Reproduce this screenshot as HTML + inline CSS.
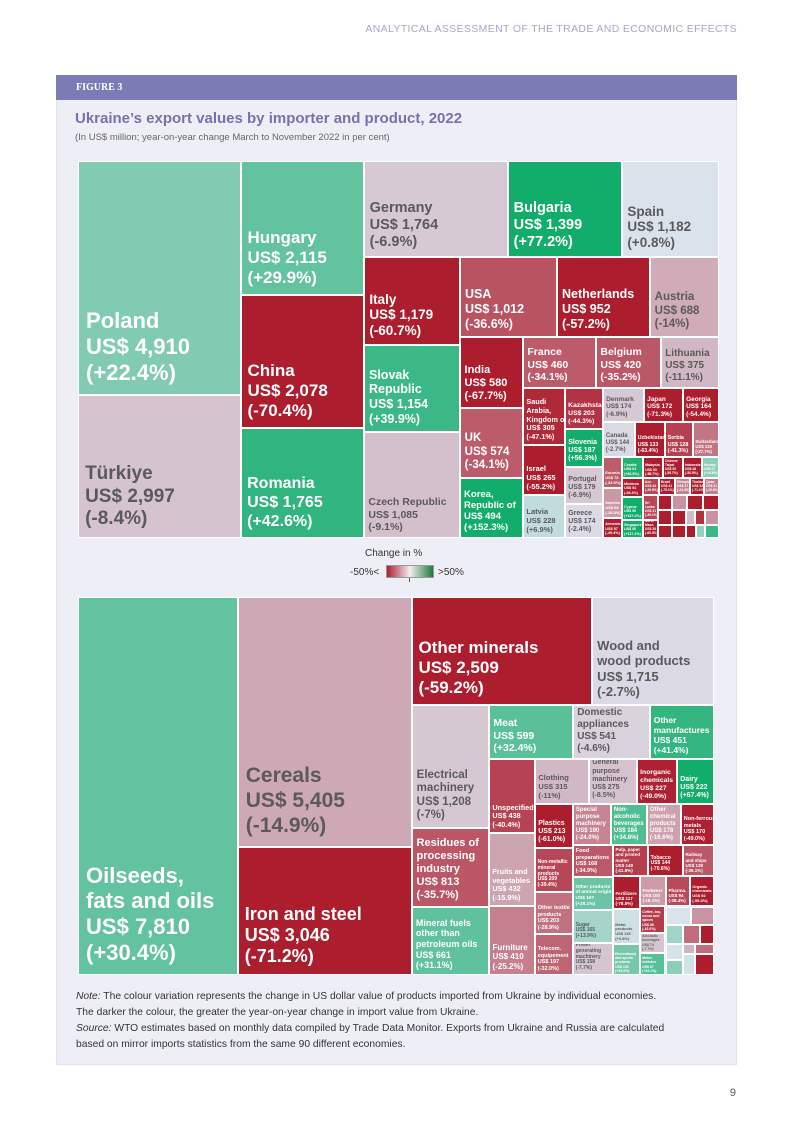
<!DOCTYPE html>
<html><head><meta charset="utf-8">
<style>
html,body{margin:0;padding:0;background:#fff;}
body{width:793px;height:1122px;position:relative;overflow:hidden;font-family:"Liberation Sans",sans-serif;}
#hdr{position:absolute;right:56px;top:23px;font-size:10.5px;color:#a7a6cc;letter-spacing:0.35px;}
#panel{position:absolute;left:56px;top:75px;width:681px;height:990px;background:#eeeef6;border:1px solid #e2e2ec;box-sizing:border-box;}
#figbar{position:absolute;left:56px;top:75px;width:681px;height:25px;background:#7b7cb5;}
#figbar span{position:absolute;left:20px;top:7px;color:#fff;font-weight:bold;font-size:10px;font-family:"Liberation Serif",serif;}
#title{position:absolute;left:75px;top:110px;font-size:15px;font-weight:bold;color:#7473ad;}
#sub{position:absolute;left:75px;top:132px;font-size:9.5px;color:#666;}
.c{position:absolute;box-sizing:border-box;border:0.5px solid #fff;overflow:hidden;display:flex;flex-direction:column;justify-content:flex-end;}
.c div{font-weight:bold;line-height:1.18;white-space:nowrap;}
#legtitle{position:absolute;left:365px;top:548px;font-size:10px;color:#333;}
#legl{position:absolute;left:350px;top:567px;font-size:10px;color:#333;}
#legr{position:absolute;left:438px;top:567px;font-size:10px;color:#333;}
#legbar{position:absolute;left:386px;top:565px;width:48px;height:13px;background:linear-gradient(to right,#ac1d2e,#f3eef0 50%,#1f7a3a);border:0.5px solid #999;box-sizing:border-box;}
#legtick{position:absolute;left:409px;top:578px;width:1px;height:4px;background:#555;}
.note{position:absolute;left:76px;font-size:10.3px;color:#333;}
#pg{position:absolute;right:57px;top:1087px;font-size:11px;color:#555;}
</style></head>
<body>
<div id="hdr">ANALYTICAL ASSESSMENT OF THE TRADE AND ECONOMIC EFFECTS</div>
<div id="panel"></div>
<div id="figbar"><span>FIGURE 3</span></div>
<div id="title">Ukraine’s export values by importer and product, 2022</div>
<div id="sub">(In US$ million; year-on-year change March to November 2022 in per cent)</div>
<div id="tm1"></div>
<div id="legtitle">Change in %</div>
<div id="legl">-50%&lt;</div>
<div id="legbar"></div>
<div id="legtick"></div>
<div id="legr">&gt;50%</div>
<div id="tm2"></div>
<div class="note" style="top:991px"><i>Note:</i> The colour variation represents the change in US dollar value of products imported from Ukraine by individual economies.</div>
<div class="note" style="top:1007px">The darker the colour, the greater the year-on-year change in import value from Ukraine.</div>
<div class="note" style="top:1023px"><i>Source:</i> WTO estimates based on monthly data compiled by Trade Data Monitor. Exports from Ukraine and Russia are calculated</div>
<div class="note" style="top:1039px">based on mirror imports statistics from the same 90 different economies.</div>
<div id="pg">9</div>
<script>
// ---- importer data ----
const importerNames = ["Poland","Türkiye","Hungary","China","Romania","Germany","Bulgaria","Spain","Italy","Slovak|Republic","Czech Republic","USA","Netherlands","Austria","India","UK","Korea,|Republic of","France","Belgium","Lithuania","Saudi|Arabia,|Kingdom of","Israel","Latvia","Kazakhstan","Slovenia","Portugal","Greece","Denmark","Japan","Georgia","Canada","Uzbekistan","Serbia","Switzerland","Estonia","Sweden","Armenia","Croatia","Moldova","Cyprus","Singapore","Malaysia","Chinese|Taipei","Indonesia","Norway","Aze.","Brazil","Ethiopia","Thailand","Qatar","Sri|Lanka","North|Mace."];
const importerValues = [4910,2997,2115,2078,1765,1764,1399,1182,1179,1154,1085,1012,952,688,580,574,494,460,420,375,305,265,228,203,187,179,174,174,172,164,144,133,128,119,76,68,57,64,54,50,50,53,50,48,47,44,41,37,32,31,41,38];
const importerChanges = [22.4,-8.4,29.9,-70.4,42.6,-6.9,77.2,0.8,-60.7,39.9,-9.1,-36.6,-57.2,-14.0,-67.7,-34.1,152.3,-34.1,-35.2,-11.1,-47.1,-55.2,6.9,-44.3,56.3,-6.9,-2.4,-6.9,-71.3,-54.4,-2.7,-63.4,-41.3,-27.7,-33.9,-18.8,-49.4,46.5,-66.4,137.2,137.2,-58.7,-55.7,-50.5,19.8,-39.5,-75.1,-24.4,-71.1,-25.6,-39.1,-60.0];
// layout rectangles (x0,y0,x1,y1) and label font size
const importerBoxes = [[78,161,241,395,22],[78,395,241,538,19],[241,161,364,295,17],[241,295,364,428,17],[241,428,364,538,16],[364,161,508,257,14.5],[508,161,622,257,14.5],[622,161,719,257,13.5],[364,257,460,345,13.5],[364,345,460,432,12.5],[364,432,460,538,10.5],[460,257,557,337,12.5],[557,257,650,337,12.5],[650,257,719,337,11.5],[460,337,523,408,11],[460,408,523,478,11.5],[460,478,523,538,9.5],[523,337,596,388,10.5],[596,337,661,388,10.5],[661,337,719,388,10],[523,388,565,445,7.3],[523,445,565,495,7.5],[523,495,565,538,7.5],[565,388,603,429,6.8],[565,429,603,467,7],[565,467,603,504,7],[565,504,603,538,7],[603,388,644,422,6.5],[644,388,683,422,6.5],[683,388,719,422,6.5],[603,422,635,457,6],[635,422,665,457,5.3],[665,422,693,457,5.3],[693,422,719,457,4.3],[603,457,622,488,4],[603,488,622,518,4],[603,518,622,538,3.8],[622,457,643,478,3.6],[622,478,643,497,3.6],[622,497,643,520,3.6],[622,520,643,538,3.6],[643,457,663,478,3.5],[663,457,683,478,3.3],[683,457,702,478,3.3],[702,457,719,478,3.3],[643,478,659,495,3.3],[659,478,675,495,3.3],[675,478,690,495,3.3],[690,478,704,495,3.3],[704,478,719,495,3.3],[643,495,658,520,3.3],[643,520,658,538,3.3]];
const importerSmallChanges = [-55,-20,-60,-65,-50,-60,-10,-45,-20,-60,-60,-55,18,40];
const importerSmallBoxes = [[658,495,672,510],[672,495,687,510],[687,495,703,510],[703,495,719,510],[658,510,672,525],[672,510,686,525],[686,510,695,525],[695,510,705,525],[705,510,719,525],[658,525,672,538],[672,525,686,538],[686,525,696,538],[696,525,705,538],[705,525,719,538]];

// ---- product data ----
const productNames = ["Oilseeds,|fats and oils","Cereals","Iron and steel","Other minerals","Wood and|wood products","Electrical|machinery","Residues of|processing|industry","Mineral fuels|other than|petroleum oils","Meat","Domestic|appliances","Other|manufactures","Unspecified","Fruits and|vegetables","Furniture","Clothing","General|purpose|machinery","Inorganic|chemicals","Dairy","Plastics","Special|purpose|machinery","Non-|alcoholic|beverages","Other|chemical|products","Non-ferrous|metals","Non-metallic|mineral|products","Other textile|products","Telecom.|equipement","Food|preparations","Other products|of animal origin","Sugar","Power|generating|machinery","Pulp, paper|and printed|matter","Tobacco","Railway|and ships","Fertilizers","Footwear","Pharma.","Organic|chemicals","Metal|products","Recreational|and sports|products","Coffee, tea,|cocoa and|spices","Alcoholic|beverages","Motor|vehicles"];
const productValues = [7810,5405,3046,2509,1715,1208,813,661,599,541,451,438,432,410,315,275,227,222,213,190,184,178,170,209,203,197,168,167,165,158,148,144,139,117,100,94,92,115,102,86,74,67];
const productChanges = [30.4,-14.9,-71.2,-59.2,-2.7,-7.0,-35.7,31.1,32.4,-4.6,41.4,-40.4,-15.9,-25.2,-11,-8.5,-49.0,67.4,-61.0,-24.0,34.8,-16.6,-49.0,-39.4,-28.9,-32.0,-34.9,28.1,13.9,-7.7,-41.8,-70.6,-35.1,-78.8,-18.1,-38.4,-55.3,3.8,25.3,-42.0,-7.7,33.1];
const productBoxes = [[78,597,238,975,22],[238,597,412,847,21],[238,847,412,975,18],[412,597,592,705,17],[592,597,714,705,13],[412,705,489,828,11.5],[412,828,489,907,11],[412,907,489,975,9],[489,705,573,759,10.5],[573,705,650,759,10],[650,705,714,759,8.5],[489,759,535,833,7.3],[489,833,535,906,7.3],[489,906,535,975,8],[535,759,589,804,7.5],[589,759,637,804,7],[637,759,677,804,6.8],[677,759,714,804,7],[535,804,573,848,7],[573,804,611,845,6],[611,804,647,845,6],[647,804,681,845,6],[681,804,714,845,5.5],[535,848,573,892,5],[535,892,573,934,5.5],[535,934,573,975,5.5],[573,845,613,877,5.5],[573,877,613,910,4.8],[573,910,613,943,5],[573,943,613,975,5],[613,845,648,876,4.5],[648,845,683,876,5],[683,845,714,876,4.5],[613,876,640,909,4.5],[640,876,666,906,4.5],[666,876,690,906,4.5],[690,876,714,906,4],[613,909,640,944,4],[613,944,640,975,3.5],[640,906,665,933,3.5],[640,933,665,953,3.5],[640,953,665,975,3.5]];
const productSmallChanges = [1,-20,15,-30,-60,2,-12,-30,20,3,-60];
const productSmallBoxes = [[666,907,691,925],[691,907,714,925],[666,925,683,944],[683,925,700,944],[700,925,714,944],[666,944,683,960],[683,944,695,954],[695,944,714,954],[666,960,683,975],[683,954,695,975],[695,954,714,975]];

function colour(ch){
  const neg=[172,29,46], mid=[221,228,238], pos=[18,173,106];
  let t=Math.min(Math.abs(ch)/50,1), end=ch<0?neg:pos;
  return 'rgb('+mid.map((m,i)=>Math.round(m+(end[i]-m)*t)).join(',')+')';
}
function fmtVal(v){return 'US$ '+v.toLocaleString('en-US');}
function fmtCh(c){return '('+(c>0?'+':'')+(Number.isInteger(c)&&Math.abs(c)<20?c:c.toFixed(1))+'%)';}
function draw(host,names,values,changes,boxes,kind){
  names.forEach((n,i)=>{
    const b=boxes[i];
    const el=document.createElement('div');
    el.className='c';
    
    
    el.style.left=b[0]+'px';el.style.top=b[1]+'px';
    el.style.width=(b[2]-b[0])+'px';el.style.height=(b[3]-b[1])+'px';
    el.style.background=colour(changes[i]);
    const fs=b[4];
    el.style.padding='0 0 '+Math.max(1,fs*0.35)+'px '+Math.max(1,fs*0.32)+'px';
    const light=Math.abs(changes[i])<15.5;
    const lab=document.createElement('div');
    
    
    lab.style.fontSize=fs+'px';
    lab.style.color=light?'#5a5a5a':'#fff';
    lab.innerHTML=n.split('|').join('<br>')+'<br>'+fmtVal(values[i])+'<br>'+fmtCh(changes[i]);
    el.appendChild(lab);
    host.appendChild(el);
  });
}
function drawSmall(host,changes,boxes,kind){
  boxes.forEach((b,i)=>{
    const el=document.createElement('div');
    el.className='c';
    
    
    el.style.left=b[0]+'px';el.style.top=b[1]+'px';
    el.style.width=(b[2]-b[0])+'px';el.style.height=(b[3]-b[1])+'px';
    el.style.background=colour(changes[i]);
    host.appendChild(el);
  });
}
const t1=document.getElementById('tm1'), t2=document.getElementById('tm2');
draw(t1,importerNames,importerValues,importerChanges,importerBoxes,'importer');
drawSmall(t1,importerSmallChanges,importerSmallBoxes,'importer');
draw(t2,productNames,productValues,productChanges,productBoxes,'product');
drawSmall(t2,productSmallChanges,productSmallBoxes,'product');
</script>
</body></html>
